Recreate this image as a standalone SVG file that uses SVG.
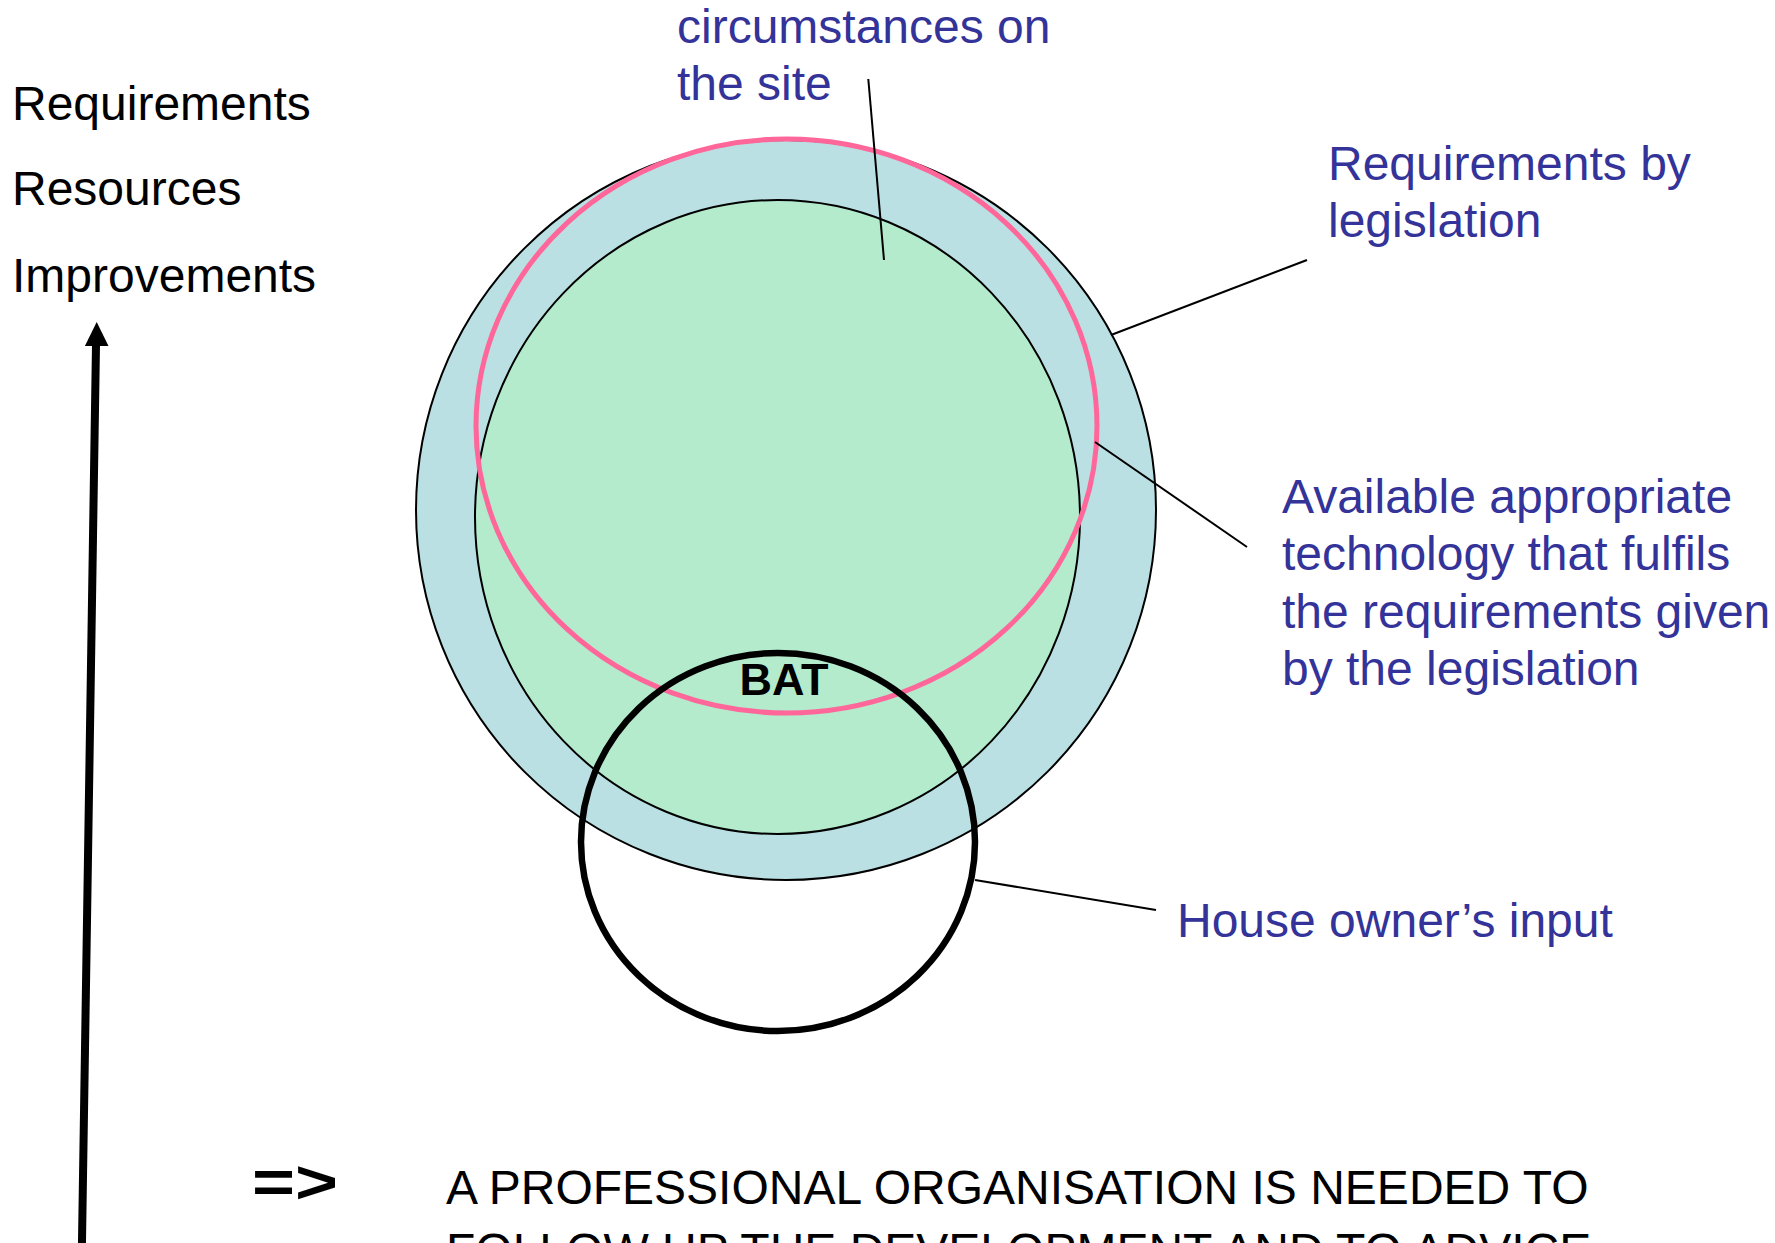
<svg xmlns="http://www.w3.org/2000/svg" width="1775" height="1243" viewBox="0 0 1775 1243">
  <style>
    .lbl { font-family: "Liberation Sans", Arial, sans-serif; font-size: 48px; fill: #333399; }
    .blk { font-family: "Liberation Sans", Arial, sans-serif; font-size: 48px; fill: #000000; }
    .lead { stroke: #000000; stroke-width: 2; fill: none; }
  </style>
  <rect x="0" y="0" width="1775" height="1243" fill="#ffffff"/>

  <g id="left-labels">
    <text class="blk" x="12" y="120">Requirements</text>
    <text class="blk" x="12" y="205">Resources</text>
    <text class="blk" x="12" y="292">Improvements</text>
  </g>

  <g id="axis-arrow">
    <line x1="81.7" y1="1260" x2="96" y2="345" stroke="#000000" stroke-width="8"/>
    <polygon points="96.7,322 108.5,346 84.9,346" fill="#000000"/>
  </g>

  <g id="node-legislation">
    <circle cx="786" cy="510" r="370" fill="#BBE0E3" stroke="#000000" stroke-width="2"/>
  </g>
  <g id="node-site">
    <ellipse cx="777.5" cy="517" rx="302.5" ry="317" fill="#B3EBCC" stroke="#000000" stroke-width="2"/>
  </g>
  <g id="node-technology">
    <ellipse cx="786.5" cy="426" rx="310.5" ry="287" fill="none" stroke="#FF6699" stroke-width="5"/>
  </g>
  <g id="node-house-owner">
    <ellipse cx="778" cy="842" rx="197" ry="189" fill="none" stroke="#000000" stroke-width="6.5"/>
  </g>
  <g id="node-bat">
    <text x="784" y="695" text-anchor="middle" font-family="'Liberation Sans', Arial, sans-serif" font-size="45" font-weight="bold" fill="#000000">BAT</text>
  </g>

  <g id="connectors">
    <line class="lead" x1="868.3" y1="79" x2="884" y2="260"/>
    <line class="lead" x1="1111" y1="335" x2="1307" y2="260"/>
    <line class="lead" x1="1095" y1="442" x2="1247" y2="547"/>
    <line class="lead" x1="975" y1="880" x2="1156" y2="910"/>
  </g>

  <g id="label-site">
    <text class="lbl" x="677" y="43">circumstances on</text>
    <text class="lbl" x="677" y="100">the site</text>
  </g>
  <g id="label-legislation">
    <text class="lbl" x="1328" y="180">Requirements by</text>
    <text class="lbl" x="1328" y="237">legislation</text>
  </g>
  <g id="label-technology">
    <text class="lbl" x="1282" y="513">Available appropriate</text>
    <text class="lbl" x="1282" y="570">technology that fulfils</text>
    <text class="lbl" x="1282" y="628">the requirements given</text>
    <text class="lbl" x="1282" y="685">by the legislation</text>
  </g>
  <g id="label-house-owner">
    <text class="lbl" x="1177" y="937">House owner’s input</text>
  </g>

  <g id="conclusion">
    <text x="252" y="1203" font-family="'Liberation Sans', Arial, sans-serif" font-size="62" font-weight="bold" fill="#000000" textLength="86" lengthAdjust="spacingAndGlyphs">=&gt;</text>
    <text class="blk" x="446" y="1204">A PROFESSIONAL ORGANISATION IS NEEDED TO</text>
    <text class="blk" x="446" y="1267">FOLLOW UP THE DEVELOPMENT AND TO ADVICE</text>
  </g>
</svg>
